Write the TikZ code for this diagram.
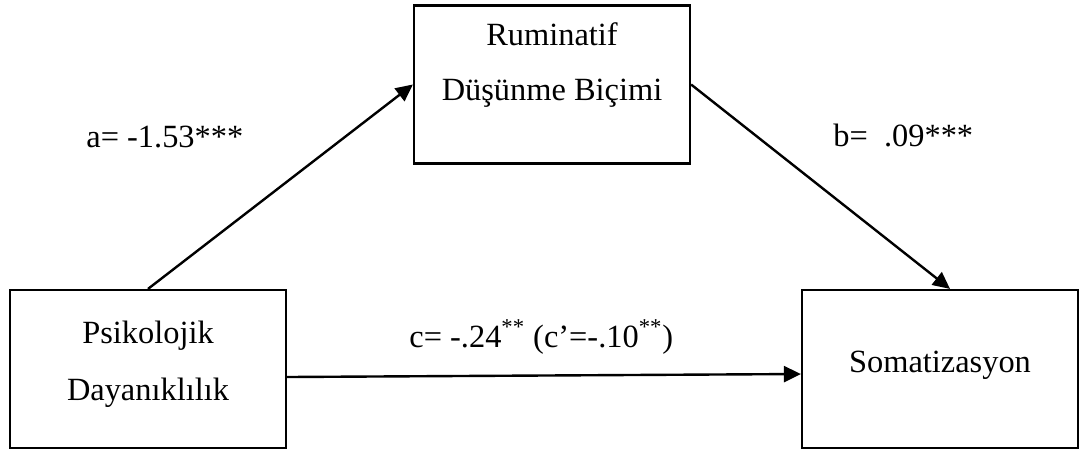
\documentclass[tikz,border=0pt]{standalone}
\usepackage{fontspec}
\setmainfont{Liberation Serif}
\usetikzlibrary{arrows.meta,calc}
\begin{document}
\begin{tikzpicture}[x=0.5pt,y=-0.5pt,
  box/.style={draw,line width=1.1pt,minimum width=138pt,minimum height=79pt,inner sep=0pt},
  txt/.style={inner sep=0pt,anchor=base,font=\fontsize{16.2}{28}\selectfont},
  lbl/.style={inner sep=0pt,anchor=base west,font=\fontsize{16.2}{28}\selectfont},
  conn/.style={line width=1.2pt,-{Triangle[length=8.5pt,width=8pt]}}]
\useasboundingbox (0,0) rectangle (1080,452);
\node[box] (pd) at (148,369) {};
\node[box] (rd) at (552,84.5) {};
\node[box] (so) at (940,369) {};
\node[txt] (pd1) at (148,343) {Psikolojik};
\node[txt] (pd2) at (148,400) {Dayanıklılık};
\node[txt] (rd1) at (552,45) {Ruminatif};
\node[txt] (rd2) at (552,100) {Düşünme Biçimi};
\node[txt] (so1) at (940,372) {Somatizasyon};
\node[lbl] (la) at (86,147) {a= -1.53***};
\node[lbl] (lb) at (833,146) {b=\ \ .09***};
\node[lbl] (lc) at (409,347) {c= -.24\textsuperscript{**} (c’=-.10\textsuperscript{**})};
\draw[conn] (pd.north) -- (rd.west);
\draw[conn] (rd.east) -- ($(so.north)+(10,0)$);
\draw[conn] ($(pd.east)+(0,8)$) -- ($(so.west)+(0,5)$);
\end{tikzpicture}
\end{document}
